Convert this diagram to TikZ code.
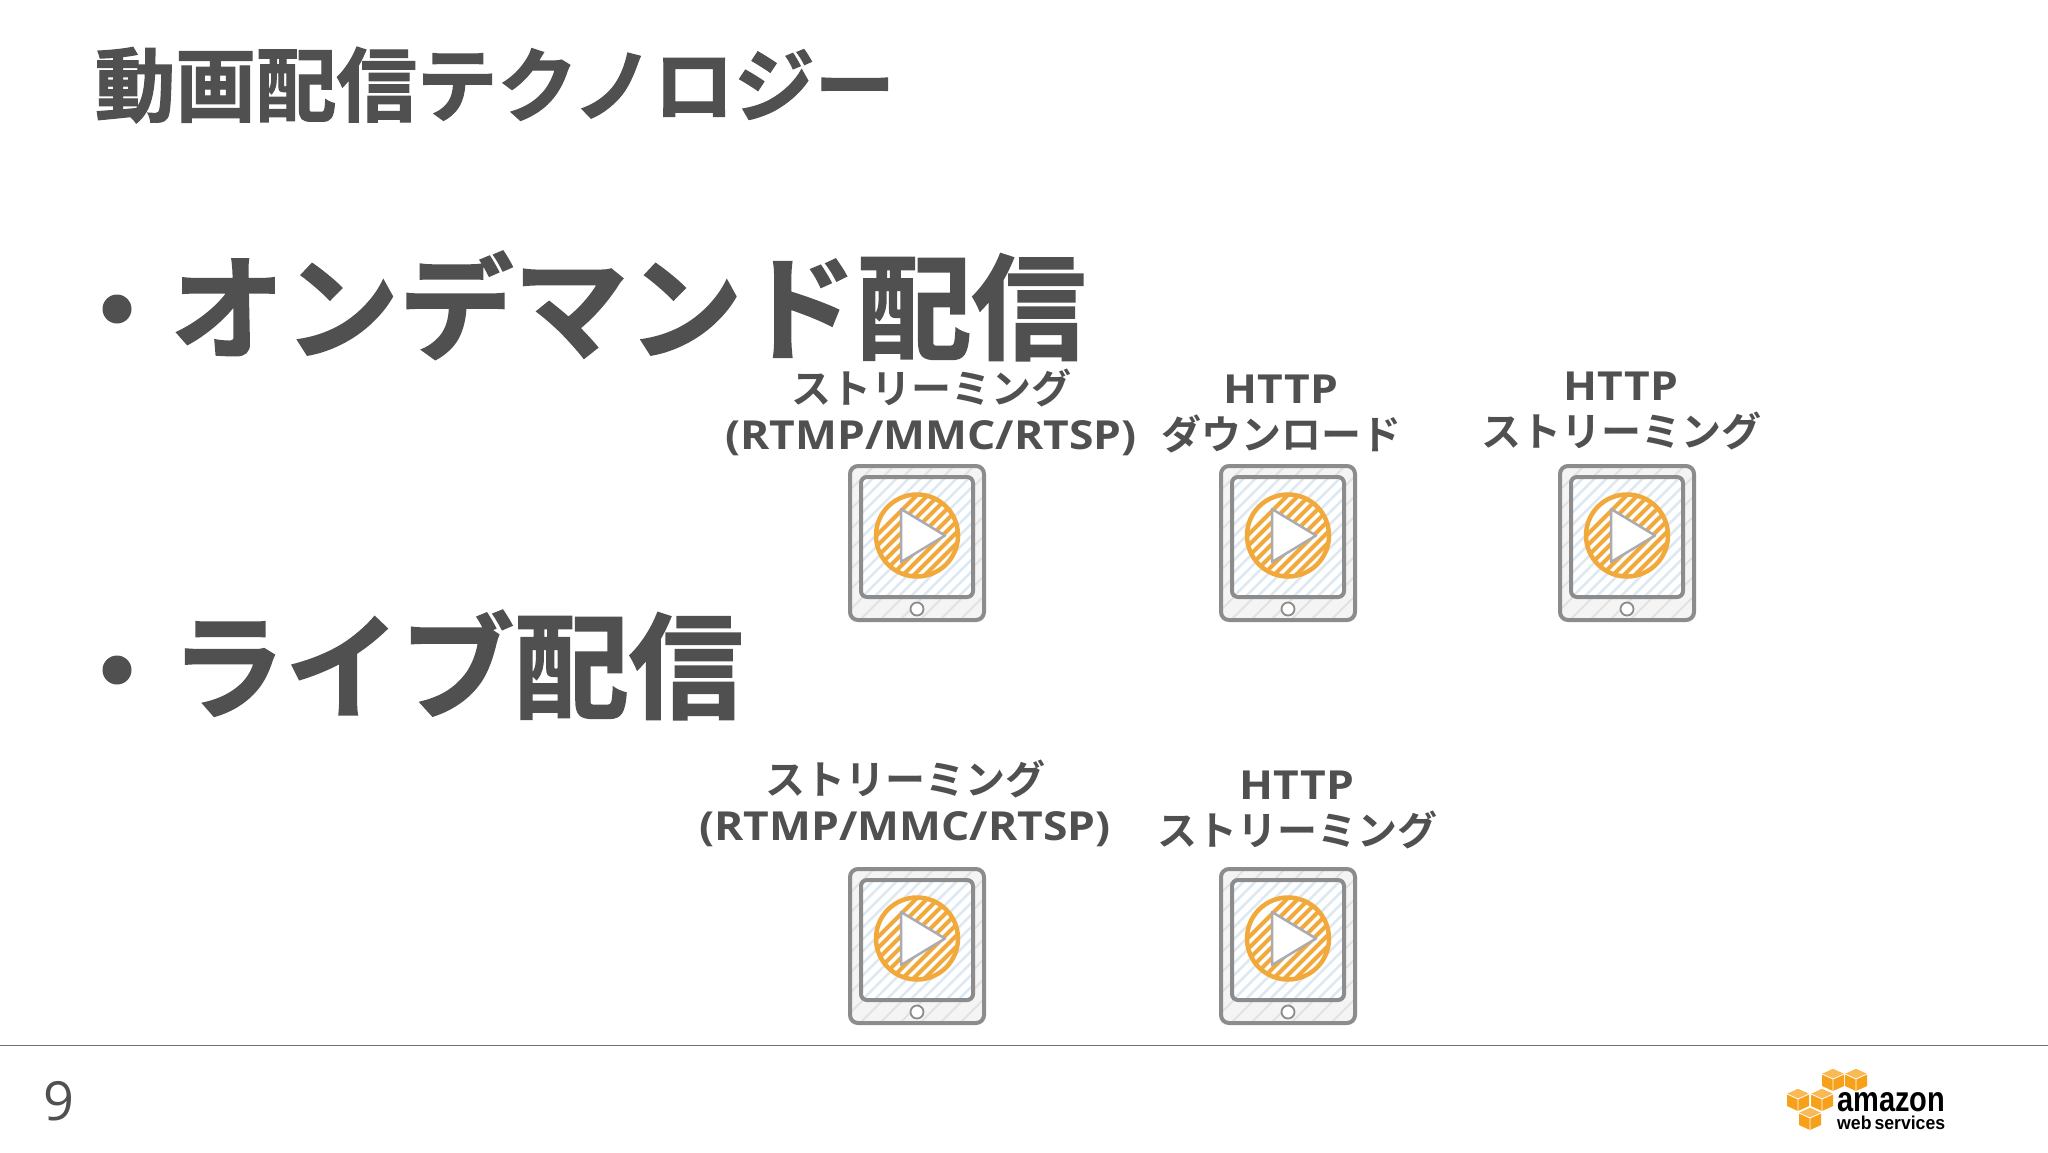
\documentclass[tikz,border=0pt]{standalone}
\usepackage{fontspec}
\usepackage{graphicx}
\newfontfamily\jpb{Noto Sans CJK JP}[BoldFont={* Bold},BoldFeatures={FakeBold=1.5}]
\newfontfamily\jpl{Noto Sans CJK JP}[BoldFont={* Bold}]
\newfontfamily\latb{Open Sans}[BoldFeatures={FakeStretch=1.11}]
\newfontfamily\pagefont{Open Sans}
\newfontfamily\logofont{Liberation Sans}
\definecolor{txt}{HTML}{505050}
\definecolor{frame}{HTML}{8C8C8C}
\definecolor{rulecol}{HTML}{707070}
\definecolor{bodyfill}{HTML}{F4F4F4}
\definecolor{bodyst}{HTML}{E2E2E2}
\definecolor{screenst}{HTML}{DCE8F2}
\definecolor{playor}{HTML}{F2A93B}
\definecolor{playedge}{HTML}{ABABB2}
\definecolor{awsor}{HTML}{F7A11B}
\tikzset{
  x=1pt,y=-1pt,
  h1/.style={anchor=center,inner sep=0,text=txt,font=\jpb\bfseries\fontsize{114.5}{120}\selectfont},
  h0/.style={anchor=center,inner sep=0,text=txt,font=\jpb\bfseries\fontsize{80.5}{90}\selectfont},
  lab/.style={anchor=center,inner sep=0,align=center,text=txt,font=\jpl\bfseries\fontsize{40}{46}\selectfont},
  bul/.style={circle,fill=txt,inner sep=0,minimum size=29pt},
  tablet/.pic={
    \begin{scope}
      \path[clip,rounded corners=8pt] (2,2) rectangle (136,156);
      \fill[bodyfill] (2,2) rectangle (136,156);
      \foreach \a in {-150,-130,...,130} \draw[bodyst,line width=2pt] (\a,158)--(\a+158,0);
    \end{scope}
    \draw[frame,line width=4pt,rounded corners=8pt] (2,2) rectangle (136,156);
    \begin{scope}
      \path[clip,rounded corners=6pt] (13,13) rectangle (125,133);
      \fill[white] (13,13) rectangle (125,133);
      \foreach \a in {-130,-118,...,130} \draw[screenst,line width=2.5pt] (\a,133)--(\a+133,0);
    \end{scope}
    \draw[frame,line width=4pt,rounded corners=6pt] (13,13) rectangle (125,133);
    \begin{scope}
      \path[clip] (69,71.5) circle[radius=41pt];
      \fill[white] (69,71.5) circle[radius=41pt];
      \foreach \a in {-20,-9,...,150} \draw[playor,line width=4pt] (\a,120)--(\a+100,20);
    \end{scope}
    \draw[playor,line width=4.5pt] (69,71.5) circle[radius=41pt];
    \draw[fill=white,draw=playedge,line width=2.5pt,line join=round] (53,45)--(97,71.5)--(53,98)--cycle;
    \draw[fill=white,draw=frame,line width=1.8pt] (69,145) circle[radius=6.5pt];
  },
  cube/.pic={
    \fill[awsor] (-11,-6)--(0,-11)--(11,-6)--(11,6)--(0,11)--(-11,6)--cycle;
    \fill[awsor!75!white] (-11,-6)--(0,-11)--(11,-6)--(0,-1)--cycle;
    \draw[white,line width=.8pt] (-11,-6)--(0,-1)--(11,-6) (0,-1)--(0,11);
  }
}
\begin{document}
\begin{tikzpicture}
\useasboundingbox (0,0) rectangle (2048,1152);
\fill[white] (0,0) rectangle (2048,1152);
\node[h0] (title) at (495,85) {動画配信テクノロジー};
\node[bul] (b1) at (117,309) {};
\node[h1] (od) at (628,306) {オンデマンド配信};
\node[bul] (b2) at (117,670) {};
\node[h1] (live) at (457,665) {ライブ配信};
\node[lab] (l1) at (931,412) {ストリーミング\\{\latb\bfseries (RTMP/MMC/RTSP)}};
\node[lab] (l2) at (1281,414) {{\latb\bfseries HTTP}\\ダウンロード};
\node[lab] (l3) at (1621,411) {{\latb\bfseries HTTP}\\ストリーミング};
\node[lab] (l4) at (905,803) {ストリーミング\\{\latb\bfseries (RTMP/MMC/RTSP)}};
\node[lab] (l5) at (1297,810) {{\latb\bfseries HTTP}\\ストリーミング};
\pic at (848,464) {tablet};
\pic at (1219,464) {tablet};
\pic at (1558,464) {tablet};
\pic at (848,867) {tablet};
\pic at (1219,867) {tablet};
\draw[rulecol,line width=1pt] (0,1045.5)--(2048,1045.5);
\node[anchor=center,inner sep=0,text=txt,font=\pagefont\fontsize{54}{60}\selectfont] (pg) at (59,1101) {9};
\pic at (1833,1080) {cube};
\pic at (1856,1080) {cube};
\pic at (1798,1100) {cube};
\pic at (1822,1100) {cube};
\pic at (1810,1119) {cube};
\node[anchor=west,inner sep=0] (amz) at (1837,1102) {\resizebox{108pt}{19pt}{\logofont\bfseries amazon}};
\node[anchor=west,inner sep=0] (aws) at (1837,1123) {\resizebox{108pt}{13.5pt}{\logofont\bfseries web\,services}};
\end{tikzpicture}
\end{document}
